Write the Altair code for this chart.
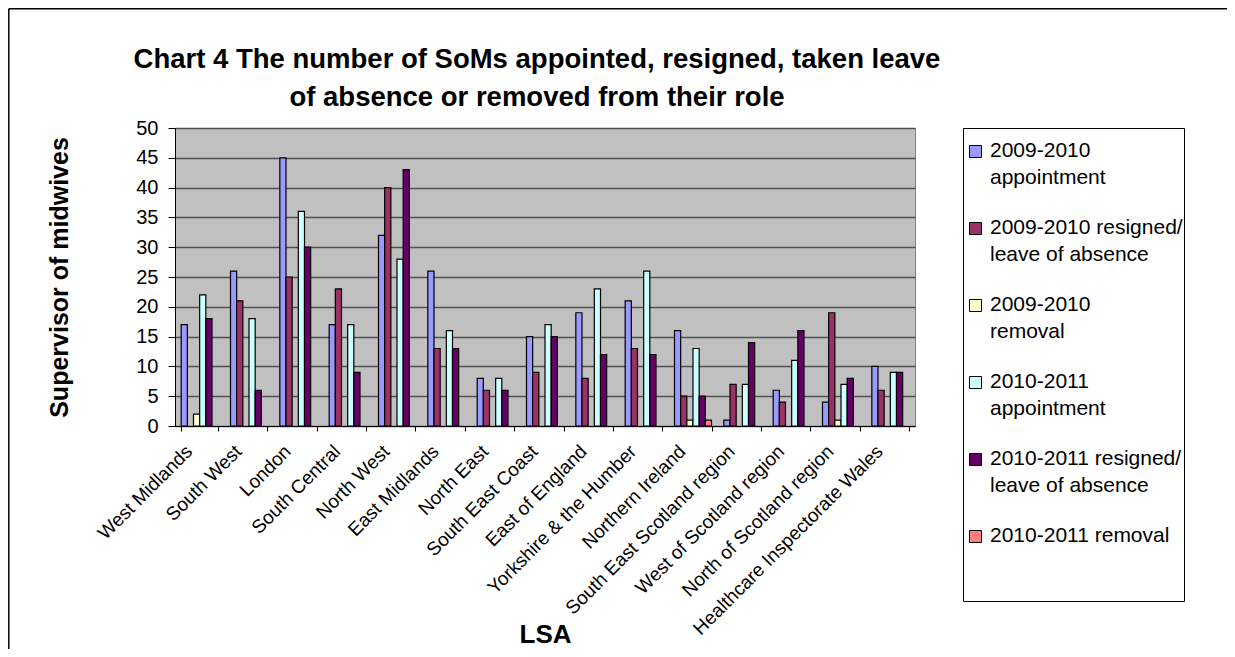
import json
import altair as alt
import pandas as pd

regions = ["West Midlands", "South West", "London", "South Central", "North West",
           "East Midlands", "North East", "South East Coast", "East of England",
           "Yorkshire & the Humber", "Northern Ireland", "South East Scotland region",
           "West of Scotland region", "North of Scotland region",
           "Healthcare Inspectorate Wales"]

series = ["2009-2010 appointment", "2009-2010 resigned/leave of absence",
          "2009-2010 removal", "2010-2011 appointment",
          "2010-2011 resigned/leave of absence", "2010-2011 removal"]

legend_lines = [["2009-2010", "appointment"],
                ["2009-2010 resigned/", "leave of absence"],
                ["2009-2010", "removal"],
                ["2010-2011", "appointment"],
                ["2010-2011 resigned/", "leave of absence"],
                ["2010-2011 removal", " ", " "]]

colors = ["#9999FF", "#993366", "#FFFFCC", "#CCFFFF", "#660066", "#FF8080"]

appt_0910 = [17, 26, 45, 17, 32, 26, 8, 15, 19, 21, 16, 1, 6, 4, 10]
resig_0910 = [0, 21, 25, 23, 40, 13, 6, 9, 8, 13, 5, 7, 4, 19, 6]
remov_0910 = [2, 0, 0, 0, 0, 0, 0, 0, 0, 0, 1, 0, 0, 1, 0]
appt_1011 = [22, 18, 36, 17, 28, 16, 8, 17, 23, 26, 13, 7, 11, 7, 9]
resig_1011 = [18, 6, 30, 9, 43, 13, 6, 15, 12, 12, 5, 14, 16, 8, 9]
remov_1011 = [0, 0, 0, 0, 0, 0, 0, 0, 0, 0, 1, 0, 0, 0, 0]

values = [appt_0910, resig_0910, remov_0910, appt_1011, resig_1011, remov_1011]

rows = []
for s, vals in zip(series, values):
    for r, v in zip(regions, vals):
        rows.append({"LSA": r, "series": s, "value": v})
df = pd.DataFrame(rows)

label_map = json.dumps(dict(zip(series, legend_lines)))

FONT = "Liberation Sans"
W, H = 740, 298

bars = alt.Chart(df).transform_filter("datum.value > 0").mark_bar(
    stroke="black", strokeWidth=1.2
).encode(
    x=alt.X("LSA:N", sort=regions,
            scale=alt.Scale(domain=regions, paddingInner=0.25, paddingOuter=0.125),
            axis=alt.Axis(title="LSA", labelAngle=-45, labelAlign="right",
                          labelBaseline="middle", labelFontSize=19, labelFont=FONT,
                          labelColor="black", labelPadding=17, labelLimit=400,
                          tickBand="extent", labelOffset=-11,
                          tickSize=5, tickColor="black", domainColor="black",
                          titleFont=FONT, titleFontSize=26, titleFontWeight="bold",
                          titleColor="black", titleY=216, titleBaseline="alphabetic",
                          grid=False)),
    xOffset=alt.XOffset("series:N", sort=series,
                        scale=alt.Scale(domain=series, paddingInner=0, paddingOuter=0)),
    y=alt.Y("value:Q", scale=alt.Scale(domain=[0, 50], nice=False),
            axis=alt.Axis(title="Supervisor of midwives", values=list(range(0, 51, 5)),
                          labelFontSize=20, labelFont=FONT, labelColor="black",
                          labelPadding=10, tickSize=7, tickColor="black",
                          domainColor="black", grid=True, gridColor="#505050",
                          gridWidth=1.3, titleFont=FONT, titleFontSize=25,
                          titleFontWeight="bold", titleColor="black", titleAngle=-90,
                          titleX=-103, titleY=H / 2, titleBaseline="bottom",
                          titleAlign="center")),
    color=alt.Color("series:N", sort=series,
                    scale=alt.Scale(domain=series, range=colors),
                    legend=alt.Legend(title=None, orient="none", legendX=788, legendY=0,
                                      direction="vertical", columns=1,
                                      symbolType="M-3,6H9V18H-3Z", symbolSize=4,
                                      symbolStrokeColor="black", symbolStrokeWidth=1,
                                      symbolOffset=-2,
                                      labelFont=FONT, labelFontSize=21, labelColor="black",
                                      labelLimit=400, labelExpr=label_map + "[datum.label]",
                                      labelOffset=7, rowPadding=18, padding=1,
                                      strokeColor="black", fillColor="white",
                                      labelBaseline="top")),
)

frame_df = pd.DataFrame({"a": [0]})
left_border = alt.Chart(frame_df).mark_rule(color="black", strokeWidth=1.5).encode(
    x=alt.value(-166.2), y=alt.value(-119.2), y2=alt.value(H + 223))
top_border = alt.Chart(frame_df).mark_rule(color="black", strokeWidth=1.5).encode(
    y=alt.value(-119.2), x=alt.value(-166.2), x2=alt.value(W + 312))

chart = alt.layer(bars, left_border, top_border).properties(
    width=W, height=H,
    autosize=alt.AutoSizeParams(type="none"),
    padding={"left": 167, "top": 120, "right": 312, "bottom": 223},
    title=alt.TitleParams(
        text=["Chart 4 The number of SoMs appointed, resigned, taken leave",
              "of absence or removed from their role"],
        font=FONT, fontSize=27.5, fontWeight="bold", color="black", anchor="middle",
        frame="group", dx=-8, offset=-103, lineHeight=38),
    background="white",
).configure(
    style={"guide-label": {"lineHeight": 27}},
    view=alt.ViewConfig(fill="#C0C0C0", stroke="#808080", strokeWidth=1),
)

chart.save("out.html", embed_options={"renderer": "svg", "actions": False})
